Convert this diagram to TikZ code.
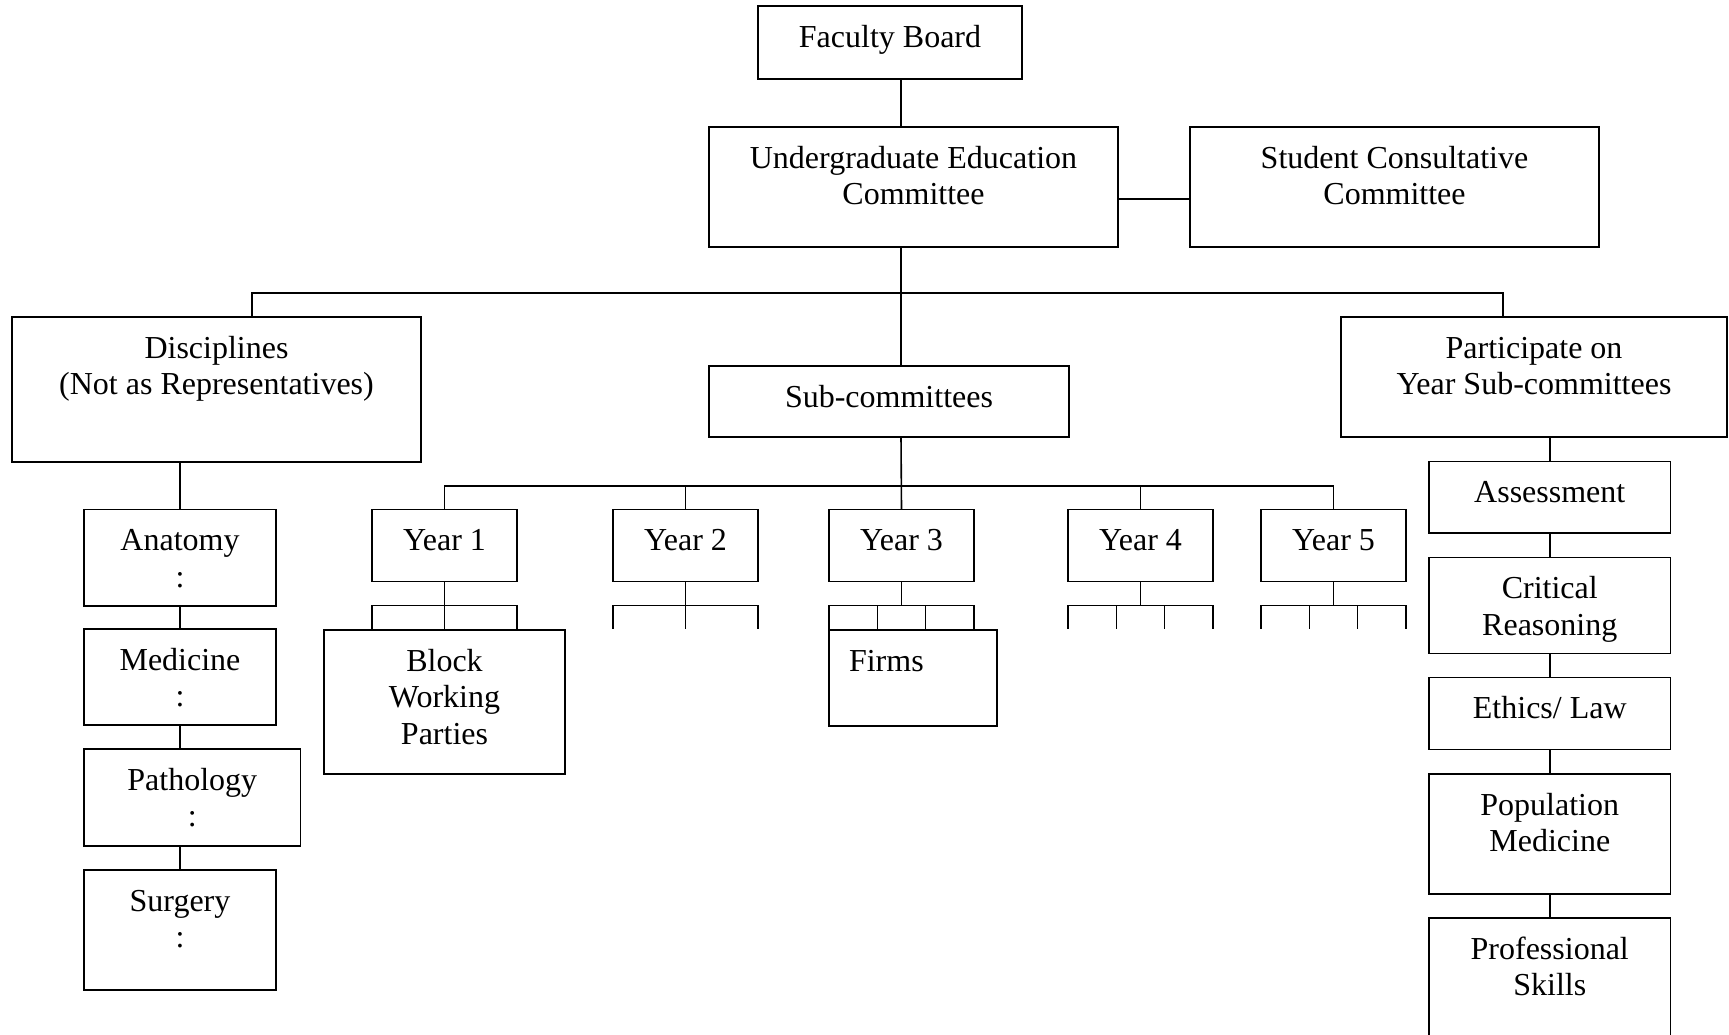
\documentclass[tikz,border=0pt]{standalone}
\usepackage{fontspec}
\setmainfont{Liberation Serif}
\newcommand{\pxu}{0.375pt}

\begin{document}
\begin{tikzpicture}[x=0.375pt, y=-0.375pt, line width=0.6pt,
  orgbox/.style n args={3}{draw, line width=0.7pt, anchor=north west, outer sep=0pt,
    align=center, font=\fontsize{12}{13.8}\selectfont,
    inner xsep=2pt, inner ysep=6pt, minimum width=#1*\pxu,
    text height=9.4pt+#3*13.8pt, text depth=#2*\pxu-21.4pt-#3*13.8pt}]

  \useasboundingbox (0,0) rectangle (1729,1035);

  \node[orgbox={264}{73}{0}] (fb) at (758,6) {Faculty Board};
  \node[orgbox={409}{120}{1}] (uec) at (709,127) {Undergraduate Education\\Committee};
  \node[orgbox={409}{120}{1}] (scc) at (1190,127) {Student Consultative\\Committee};
  \node[orgbox={409}{145}{1}] (dis) at (12,317) {Disciplines\\(Not as Representatives)};
  \node[orgbox={360}{71}{0}] (sub) at (709,366) {Sub-committees};
  \node[orgbox={386}{120}{1}] (par) at (1341,317) {Participate on\\Year Sub-committees};

  \node[orgbox={192}{96.5}{1}] (ana) at (84,509.5) {Anatomy\\:};
  \node[orgbox={192}{96}{1}] (med) at (84,629) {Medicine\\:};
  \node[orgbox={216.5}{97}{1}] (pat) at (84,749) {Pathology\\:};
  \node[orgbox={192}{120}{1}] (sur) at (84,870) {Surgery\\:};

  \node[orgbox={145}{72}{0}] (y1) at (372,509.5) {Year 1};
  \node[orgbox={145}{72}{0}] (y2) at (613,509.5) {Year 2};
  \node[orgbox={145}{72}{0}] (y3) at (829,509.5) {Year 3};
  \node[orgbox={145}{72}{0}] (y4) at (1068,509.5) {Year 4};
  \node[orgbox={145}{72}{0}] (y5) at (1261,509.5) {Year 5};

  \node[orgbox={241}{144}{2}] (bwp) at (324,630) {Block\\Working\\Parties};
  \node[orgbox={168}{96}{0}, text width=48pt, align=left, inner xsep=7.5pt] (firms) at (829,630) {Firms};

  \node[orgbox={241.5}{71.5}{0}] (ass) at (1429,461.5) {Assessment};
  \node[orgbox={241.5}{96}{1}] (cr) at (1429,557.5) {Critical\\Reasoning};
  \node[orgbox={241.5}{72}{0}] (eth) at (1429,677.5) {Ethics/ Law};
  \node[orgbox={241.5}{120}{1}] (pop) at (1429,774) {Population\\Medicine};
  \node[orgbox={241.5}{125}{1}] (pro) at (1429,918) {Professional\\Skills};

  \coordinate (spine) at (901,293);
  \coordinate (busL) at (252,293);
  \coordinate (busR) at (1503,293);
  \coordinate (ybus) at (901,486);

  \draw (fb.south -| spine) -- (uec.north -| spine);
  \draw ([yshift=-12*\pxu]uec.east) -- ([yshift=-12*\pxu]scc.west);
  \draw (uec.south -| spine) -- (sub.north -| spine);
  \draw (dis.north -| busL) -- (busL) -- (busR) -- (par.north -| busR);

  \draw (dis.south -| ana) -- (ana.north);
  \draw (ana.south) -- (med.north);
  \draw (med.south) -- (med.south |- pat.north);
  \draw (sur.north |- pat.south) -- (sur.north);

  \draw (par.south -| ass) -- (ass.north);
  \draw (ass.south) -- (cr.north);
  \draw (cr.south) -- (eth.north);
  \draw (eth.south) -- (pop.north);
  \draw (pop.south) -- (pro.north);

  \draw (sub.south -| spine) -- (y3.north);
  \draw (y1.north) |- (ybus) -| (y5.north);
  \draw (y2.north) -- (y2.north |- ybus);
  \draw (y4.north) -- (y4.north |- ybus);

  \foreach \y/\n in {y1/2, y2/2, y3/3, y4/3, y5/3} {
    \draw (\y.south) -- ++(0,24);
    \draw ([yshift=-24*\pxu]\y.south west) -- ([yshift=-24*\pxu]\y.south east);
    \foreach \k in {0,...,\n}
      \draw ([xshift=\k*145/\n*\pxu, yshift=-24*\pxu]\y.south west) -- ++(0,24);
  }

\end{tikzpicture}
\end{document}
